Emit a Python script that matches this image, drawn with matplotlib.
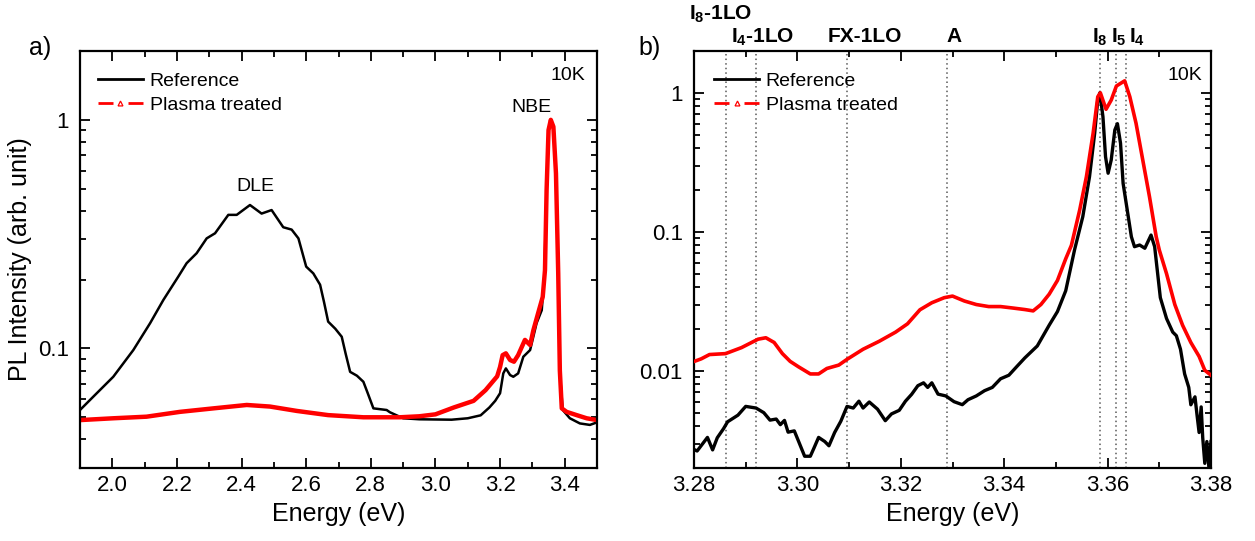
import matplotlib
matplotlib.use("Agg")
import matplotlib.pyplot as plt
from matplotlib.ticker import MultipleLocator, LogLocator, NullFormatter, FuncFormatter
from matplotlib.lines import Line2D

plt.rcParams['font.family'] = ['Liberation Sans', 'DejaVu Sans']
plt.rcParams['mathtext.fontset'] = 'custom'
plt.rcParams['mathtext.rm'] = 'Liberation Sans:bold'
plt.rcParams['mathtext.it'] = 'Liberation Sans:bold'
plt.rcParams['mathtext.bf'] = 'Liberation Sans:bold'

# ---------------- Panel a data ----------------
a_ref_E = [1.900, 1.941, 2.003, 2.065, 2.117, 2.158, 2.204, 2.230, 2.261, 2.292,
           2.318, 2.359, 2.385, 2.426, 2.462, 2.493, 2.529, 2.555, 2.576, 2.600,
           2.622, 2.643, 2.655, 2.668, 2.690, 2.710, 2.722, 2.736, 2.757, 2.777,
           2.790, 2.808, 2.849, 2.859, 2.900, 2.950, 3.000, 3.050, 3.100, 3.140,
           3.167, 3.185, 3.200, 3.210, 3.218, 3.231, 3.241, 3.256, 3.272, 3.293,
           3.313, 3.329, 3.337, 3.344, 3.350, 3.357, 3.365, 3.373, 3.380, 3.385,
           3.394, 3.416, 3.447, 3.478, 3.500]
a_ref_I = [0.0538, 0.0615, 0.0752, 0.0984, 0.129, 0.163, 0.206, 0.236, 0.261, 0.303,
           0.319, 0.384, 0.384, 0.424, 0.389, 0.403, 0.339, 0.331, 0.303, 0.228,
           0.213, 0.190, 0.160, 0.131, 0.122, 0.1125, 0.095, 0.079, 0.076, 0.0715,
           0.064, 0.0547, 0.0538, 0.0526, 0.0495, 0.0490, 0.0489, 0.0488, 0.0495, 0.0510,
           0.0552, 0.059, 0.0637, 0.0778, 0.0818, 0.0765, 0.0752, 0.0778, 0.092, 0.0984,
           0.129, 0.147, 0.206, 0.493, 0.902, 1.0, 0.933, 0.583, 0.213, 0.078,
           0.0538, 0.0495, 0.047, 0.0463, 0.0475]

a_pt_E = [1.900, 2.003, 2.106, 2.209, 2.313, 2.416, 2.488, 2.571, 2.668, 2.777,
          2.890, 2.950, 3.000, 3.057, 3.118, 3.155, 3.191, 3.200, 3.208, 3.218,
          3.231, 3.243, 3.256, 3.277, 3.293, 3.303, 3.318, 3.332, 3.339, 3.344,
          3.350, 3.357, 3.365, 3.373, 3.380, 3.385, 3.391, 3.406, 3.437, 3.468, 3.500]
a_pt_I = [0.0486, 0.0495, 0.0503, 0.0528, 0.0547, 0.0566, 0.0557, 0.0533, 0.0511, 0.0500,
          0.0500, 0.0505, 0.0515, 0.0552, 0.059, 0.0657, 0.0755, 0.083, 0.0935, 0.0952,
          0.089, 0.0875, 0.0935, 0.109, 0.1035, 0.120, 0.143, 0.168, 0.220, 0.493,
          0.902, 1.0, 0.933, 0.583, 0.213, 0.080, 0.0547, 0.0528, 0.0511, 0.0495, 0.0486]

# ---------------- Panel b data ----------------
b_ref_E = [3.2800, 3.2806, 3.2814, 3.2826, 3.2836, 3.2845, 3.2857, 3.2865, 3.2885, 3.2900,
           3.2920, 3.2935, 3.2947, 3.2959, 3.2967, 3.2975, 3.2982, 3.2994, 3.3002, 3.3014,
           3.3025, 3.3032, 3.3041, 3.3053, 3.3061, 3.3072, 3.3084, 3.3096, 3.3108, 3.3119,
           3.3127, 3.3139, 3.3155, 3.3170, 3.3182, 3.3197, 3.3209, 3.3221, 3.3233, 3.3244,
           3.3252, 3.3260, 3.3272, 3.3287, 3.3303, 3.3319, 3.3330, 3.3346, 3.3362, 3.3377,
           3.3393, 3.3409, 3.3424, 3.3440, 3.3464, 3.3487, 3.3503, 3.3519, 3.3536, 3.3552,
           3.3565, 3.3575, 3.3581, 3.3585, 3.3591, 3.3596, 3.3601, 3.3607, 3.3614, 3.3619,
           3.3625, 3.3630, 3.3638, 3.3646, 3.3652, 3.3662, 3.3672, 3.3684, 3.3691, 3.3702,
           3.3714, 3.3726, 3.3733, 3.3741, 3.3749, 3.3757, 3.3761, 3.3769, 3.3773, 3.3777,
           3.3781, 3.3784, 3.3788, 3.3792, 3.3796, 3.3800]
b_ref_I = [0.00272, 0.00265, 0.0029, 0.00332, 0.0027, 0.0033, 0.00383, 0.0043, 0.0048, 0.00555,
           0.0054, 0.0050, 0.00442, 0.0045, 0.0041, 0.0044, 0.00362, 0.0037, 0.00313, 0.00243,
           0.00243, 0.00278, 0.00332, 0.0031, 0.00289, 0.0036, 0.00434, 0.00555, 0.0054, 0.00605,
           0.0054, 0.00597, 0.0053, 0.00438, 0.0049, 0.0052, 0.00605, 0.00678, 0.00782, 0.0082,
           0.0076, 0.0082, 0.0068, 0.0066, 0.0060, 0.00571, 0.0062, 0.0066, 0.0072, 0.0076,
           0.00877, 0.0093, 0.0107, 0.0124, 0.0151, 0.0213, 0.0267, 0.0377, 0.074, 0.1285,
           0.249, 0.512, 0.887, 1.0, 0.673, 0.347, 0.264, 0.329, 0.541, 0.600,
           0.434, 0.223, 0.1435, 0.0922, 0.0782, 0.0804, 0.0762, 0.0948, 0.0782, 0.0336,
           0.0238, 0.0190, 0.0179, 0.0143, 0.0095, 0.0076, 0.0057, 0.0065, 0.0048, 0.0036,
           0.0055, 0.0033, 0.00216, 0.0031, 0.0020, 0.0031]

b_pt_E = [3.2800, 3.2814, 3.2830, 3.2861, 3.2892, 3.2924, 3.2939, 3.2955, 3.2971, 3.2986,
          3.3002, 3.3025, 3.3041, 3.3057, 3.3080, 3.3096, 3.3127, 3.3158, 3.3190, 3.3213,
          3.3237, 3.3260, 3.3284, 3.3300, 3.3323, 3.3346, 3.3370, 3.3393, 3.3417, 3.3440,
          3.3456, 3.3471, 3.3487, 3.3503, 3.3519, 3.3530, 3.3546, 3.3559, 3.3572, 3.3581,
          3.3586, 3.3597, 3.3607, 3.3617, 3.3633, 3.3643, 3.3655, 3.3668, 3.3681, 3.3694,
          3.3700, 3.3714, 3.3730, 3.3745, 3.3761, 3.3777, 3.3788, 3.3800]
b_pt_I = [0.01167, 0.0122, 0.0131, 0.0133, 0.0147, 0.0169, 0.0173, 0.0160, 0.0133, 0.0117,
          0.0107, 0.0095, 0.0095, 0.0104, 0.0110, 0.0121, 0.0143, 0.0163, 0.0190, 0.0218,
          0.0275, 0.0309, 0.0336, 0.0345, 0.0318, 0.0300, 0.0290, 0.0290, 0.0283, 0.0276,
          0.0270, 0.0300, 0.0356, 0.0447, 0.064, 0.080, 0.1435, 0.249, 0.512, 0.937,
          1.0, 0.762, 0.887, 1.12, 1.22, 0.937, 0.604, 0.329, 0.179, 0.0922,
          0.074, 0.050, 0.030, 0.0213, 0.0160, 0.0127, 0.0101, 0.0093]

# peak assignments (dotted lines) and their labels
b_line_E = [3.2861, 3.2920, 3.3096, 3.3289, 3.3585, 3.3617, 3.3635]
b_lab_text = [r'I$_8$-1LO', r'I$_4$-1LO', 'FX-1LO', 'A', r'I$_8$', r'I$_5$', r'I$_4$']
b_lab_E = [3.2790, 3.2872, 3.3059, 3.3288, 3.3569, 3.3606, 3.3641]
b_lab_row = [1, 0, 0, 0, 0, 0, 0]

series_labels = ['Reference', 'Plasma treated']

fig = plt.figure(figsize=(12.55, 5.41), dpi=100)
axa = fig.add_axes([80/1255, 73/541, 517/1255, 417/541])
axb = fig.add_axes([694/1255, 73/541, 517/1255, 417/541])

fmt = FuncFormatter(lambda v, _: f'{v:g}')

def style(ax):
    ax.set_yscale('log')
    for s in ax.spines.values():
        s.set_linewidth(1.6)
    ax.tick_params(which='both', direction='in', top=True, right=True, width=1.3)
    ax.tick_params(which='major', length=7, labelsize=16)
    ax.tick_params(which='minor', length=4)
    ax.tick_params(axis='y', which='major', pad=8)
    ax.tick_params(axis='x', which='major', pad=5)
    ax.yaxis.set_major_locator(LogLocator(base=10, numticks=10))
    ax.yaxis.set_minor_locator(LogLocator(base=10, subs=range(2, 10), numticks=20))
    ax.yaxis.set_major_formatter(fmt)
    ax.yaxis.set_minor_formatter(NullFormatter())
    ax.set_xlabel('Energy (eV)', fontsize=18)

legend_handles = [Line2D([], [], color='black', lw=2),
                  Line2D([], [], color='red', lw=2, ls=(0, (5.4, 5.4)), marker='^',
                         ms=3.5, mfc='none', mec='red', mew=0.9)]

# ---- panel a ----
axa.plot(a_ref_E, a_ref_I, color='black', lw=1.8)
axa.plot(a_pt_E, a_pt_I, color='red', lw=3.2)
axa.set_xlim(1.9, 3.5)
axa.set_ylim(0.03, 2)
style(axa)
axa.xaxis.set_major_locator(MultipleLocator(0.2))
axa.xaxis.set_minor_locator(MultipleLocator(0.1))
axa.xaxis.set_major_formatter(FuncFormatter(lambda v, _: f'{v:.1f}'))
axa.set_ylabel('PL Intensity (arb. unit)', fontsize=18, labelpad=4)
axa.legend(legend_handles, series_labels, loc='upper left', bbox_to_anchor=(0.035, 0.948),
           frameon=False, fontsize=14, handlelength=2.3, handletextpad=0.35,
           labelspacing=0.3, borderpad=0, borderaxespad=0)
axa.text(0.977, 0.942, '10K', transform=axa.transAxes, ha='right', va='center', fontsize=14)
axa.text(3.298, 1.13, 'NBE', ha='center', va='center', fontsize=14)
axa.text(2.444, 0.51, 'DLE', ha='center', va='center', fontsize=14)

# ---- panel b ----
for e in b_line_E:
    axb.axvline(e, color='0.35', ls=(0, (1, 2)), lw=1.1, zorder=1)
axb.plot(b_ref_E, b_ref_I, color='black', lw=2.4, zorder=2)
axb.plot(b_pt_E, b_pt_I, color='red', lw=2.6, zorder=3)
axb.set_xlim(3.28, 3.38)
axb.set_ylim(0.002, 2)
style(axb)
axb.xaxis.set_major_locator(MultipleLocator(0.02))
axb.xaxis.set_minor_locator(MultipleLocator(0.01))
axb.xaxis.set_major_formatter(FuncFormatter(lambda v, _: f'{v:.2f}'))
axb.legend(legend_handles, series_labels, loc='upper left', bbox_to_anchor=(0.039, 0.948),
           frameon=False, fontsize=14, handlelength=2.3, handletextpad=0.35,
           labelspacing=0.3, borderpad=0, borderaxespad=0)
axb.text(0.983, 0.942, '10K', transform=axb.transAxes, ha='right', va='center', fontsize=14)
for txt, e, row in zip(b_lab_text, b_lab_E, b_lab_row):
    yfrac = 1.0755 if row == 1 else 1.0204
    axb.text(e, yfrac, txt, transform=axb.get_xaxis_transform(), ha='left', va='baseline',
             fontsize=15, fontweight='bold', clip_on=False)

fig.text(40/1255, 1 - 48/541, 'a)', fontsize=18, ha='center', va='center')
fig.text(650/1255, 1 - 48/541, 'b)', fontsize=18, ha='center', va='center')

fig.savefig('out.png', dpi=100)
